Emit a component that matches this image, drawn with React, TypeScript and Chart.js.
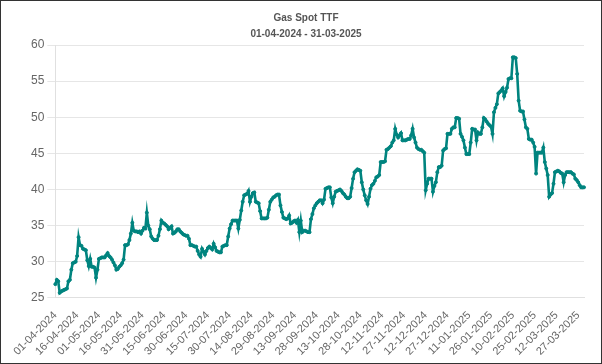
import React, { useEffect, useRef } from "react";
import { Chart, registerables } from "chart.js";

Chart.register(...registerables);

const TITLE = ["Gas Spot TTF", "01-04-2024 - 31-03-2025"];
const START_DATE = { y: 2024, m: 3, d: 1 };
const DAY_COUNT = 365;

const TICK_LABELS = [
  "01-04-2024", "16-04-2024", "01-05-2024", "16-05-2024", "31-05-2024",
  "15-06-2024", "30-06-2024", "15-07-2024", "30-07-2024", "14-08-2024",
  "29-08-2024", "13-09-2024", "28-09-2024", "13-10-2024", "28-10-2024",
  "12-11-2024", "27-11-2024", "12-12-2024", "27-12-2024", "11-01-2025",
  "26-01-2025", "10-02-2025", "25-02-2025", "12-03-2025", "27-03-2025",
];

const apr24 = [26.9, 27.5, 27.3, 25.7, 25.9, 26.0, 26.1, 26.2, 26.3, 27.3, 27.5, 28.9, 29.8, 29.9, 30.0, 30.8, 33.4, 32.3, 32.2, 31.8, 31.7, 31.6, 30.2, 29.4, 30.4, 29.3, 29.3, 29.2, 27.8, 28.9];
const may24 = [30.4, 30.5, 30.6, 30.6, 30.6, 30.9, 31.2, 30.8, 30.6, 30.3, 29.9, 29.5, 28.9, 29.0, 29.3, 29.5, 29.8, 30.3, 32.3, 32.3, 32.4, 33.0, 33.9, 35.4, 34.3, 34.2, 34.2, 34.1, 34.2, 33.9, 34.3];
const jun24 = [34.7, 34.6, 36.8, 35.0, 34.5, 33.5, 33.2, 33.0, 33.0, 33.0, 33.6, 34.5, 35.7, 35.4, 35.3, 35.1, 34.9, 34.5, 34.7, 34.9, 33.9, 34.0, 34.2, 34.5, 34.5, 34.2, 34.0, 33.8, 33.7, 33.6];
const jul24 = [33.6, 33.2, 32.3, 32.3, 32.2, 32.1, 32.1, 31.5, 31.0, 30.7, 31.8, 31.4, 31.0, 31.5, 31.9, 32.1, 31.9, 31.7, 32.5, 32.0, 31.5, 31.4, 31.3, 31.3, 32.1, 32.2, 32.3, 32.3, 33.5, 34.6, 35.2];
const aug24 = [35.7, 35.7, 35.7, 35.7, 34.6, 35.8, 37.1, 38.3, 39.2, 39.3, 39.4, 39.8, 38.3, 39.0, 39.5, 39.6, 38.3, 38.2, 38.1, 37.0, 36.0, 36.0, 36.0, 36.0, 36.1, 37.2, 38.3, 38.6, 38.9, 39.0, 39.2];
const sep24 = [39.3, 39.3, 37.8, 36.9, 36.1, 36.0, 35.9, 36.0, 36.4, 35.3, 35.4, 35.6, 35.7, 35.4, 35.8, 34.1, 35.7, 34.1, 34.3, 34.3, 34.2, 34.1, 34.1, 35.9, 36.6, 37.4, 37.8, 38.1, 38.3, 38.5];
const oct24 = [38.5, 38.1, 38.6, 40.1, 40.2, 40.3, 40.3, 38.9, 38.1, 39.0, 39.7, 39.8, 39.9, 40.0, 39.8, 39.5, 39.3, 39.0, 38.8, 38.8, 39.0, 40.2, 41.5, 42.4, 42.6, 42.8, 42.7, 42.6, 41.0, 40.0, 39.2];
const nov24 = [38.5, 38.0, 39.0, 40.1, 40.6, 40.8, 41.2, 41.7, 41.8, 42.0, 43.8, 43.8, 43.8, 43.9, 45.5, 45.6, 45.8, 46.0, 46.5, 46.8, 48.4, 47.6, 47.2, 47.5, 47.8, 46.8, 46.8, 46.8, 46.9, 47.0];
const dec24 = [47.0, 47.5, 48.4, 47.2, 46.5, 45.8, 45.6, 45.5, 45.5, 45.3, 45.1, 39.9, 40.8, 41.5, 41.5, 41.5, 39.7, 40.5, 41.0, 42.4, 43.1, 43.1, 43.3, 45.4, 45.6, 45.7, 47.7, 47.7, 47.7, 48.4, 48.6];
const jan25 = [48.6, 49.9, 49.9, 49.8, 47.7, 47.3, 46.8, 45.8, 44.9, 44.9, 44.9, 46.5, 48.4, 48.3, 48.3, 46.8, 47.9, 47.7, 47.7, 48.6, 49.9, 49.7, 49.4, 49.1, 48.9, 48.7, 47.7, 50.7, 51.3, 51.8, 53.3];
const feb25 = [53.5, 53.7, 54.0, 52.9, 53.5, 54.1, 55.3, 55.4, 55.4, 58.3, 58.3, 58.2, 56.0, 52.3, 50.9, 50.8, 50.8, 49.7, 48.6, 48.4, 47.0, 46.9, 46.9, 46.5, 45.9, 42.2, 45.1, 45.1];
const mar25 = [45.1, 45.1, 45.8, 43.8, 42.9, 42.0, 39.0, 39.3, 39.5, 40.8, 42.4, 42.5, 42.6, 42.5, 42.3, 42.2, 41.0, 42.0, 42.4, 42.4, 42.4, 42.4, 42.2, 42.1, 41.5, 41.3, 41.0, 40.6, 40.3, 40.3, 40.3];

const Y_MIN = 25;
const Y_MAX = 60;
const Y_STEP = 5;

function pad(n: number) {
  return n < 10 ? "0" + n : "" + n;
}

function buildLabels(): string[] {
  const out: string[] = [];
  for (let i = 0; i < DAY_COUNT; i++) {
    const dt = new Date(Date.UTC(START_DATE.y, START_DATE.m, START_DATE.d + i));
    out.push(`${pad(dt.getUTCDate())}-${pad(dt.getUTCMonth() + 1)}-${dt.getUTCFullYear()}`);
  }
  return out;
}

export default function App() {
  const ref = useRef<HTMLCanvasElement | null>(null);

  useEffect(() => {
    document.body.style.margin = "0";
    const labels = buildLabels();
    const values = [
      ...apr24, ...may24, ...jun24, ...jul24, ...aug24, ...sep24,
      ...oct24, ...nov24, ...dec24, ...jan25, ...feb25, ...mar25,
    ];
    const tickSet = new Set(TICK_LABELS);
    const color = "#00847f";
    const font = "'Liberation Sans', Arial, sans-serif";
    const chart = new Chart(ref.current as HTMLCanvasElement, {
      type: "line",
      data: {
        labels,
        datasets: [
          {
            label: "TTF",
            data: values,
            borderColor: color,
            backgroundColor: color,
            borderWidth: 2.6,
            pointRadius: 1.5,
            pointBorderWidth: 1,
            pointBackgroundColor: color,
            pointBorderColor: color,
            tension: 0,
            fill: false,
          },
        ],
      },
      options: {
        responsive: false,
        animation: false,
        layout: { padding: { left: 27, right: 17, top: 0, bottom: 2 } },
        plugins: {
          legend: { display: false },
          tooltip: { enabled: false },
          title: {
            display: true,
            text: TITLE,
            color: "#555",
            font: { family: font, size: 10, weight: "bold", lineHeight: 1.6 },
            padding: { top: 9, bottom: 3 },
          },
        },
        scales: {
          x: {
            grid: { display: false },
            border: { display: true, color: "#e0e0e0" },
            ticks: {
              autoSkip: false,
              maxRotation: 45,
              minRotation: 45,
              color: "#666",
              font: { family: font, size: 11 },
              callback: function (this: any, val: any, idx: number) {
                const l = labels[idx];
                return tickSet.has(l) ? l : null;
              },
            },
          },
          y: {
            min: Y_MIN,
            max: Y_MAX,
            grid: { color: "#e6e6e6", tickLength: 8 },
            border: { display: true, color: "#e0e0e0" },
            ticks: {
              stepSize: Y_STEP,
              color: "#666",
              font: { family: font, size: 12 },
            },
          },
        },
      },
    });
    return () => chart.destroy();
  }, []);

  return (
    <div
      style={{
        position: "absolute",
        left: 0,
        top: 0,
        width: 602,
        height: 364,
        boxSizing: "border-box",
        border: "1px solid #333",
        background: "#fff",
      }}
    >
      <canvas ref={ref} width={600} height={362} style={{ display: "block" }} />
    </div>
  );
}
